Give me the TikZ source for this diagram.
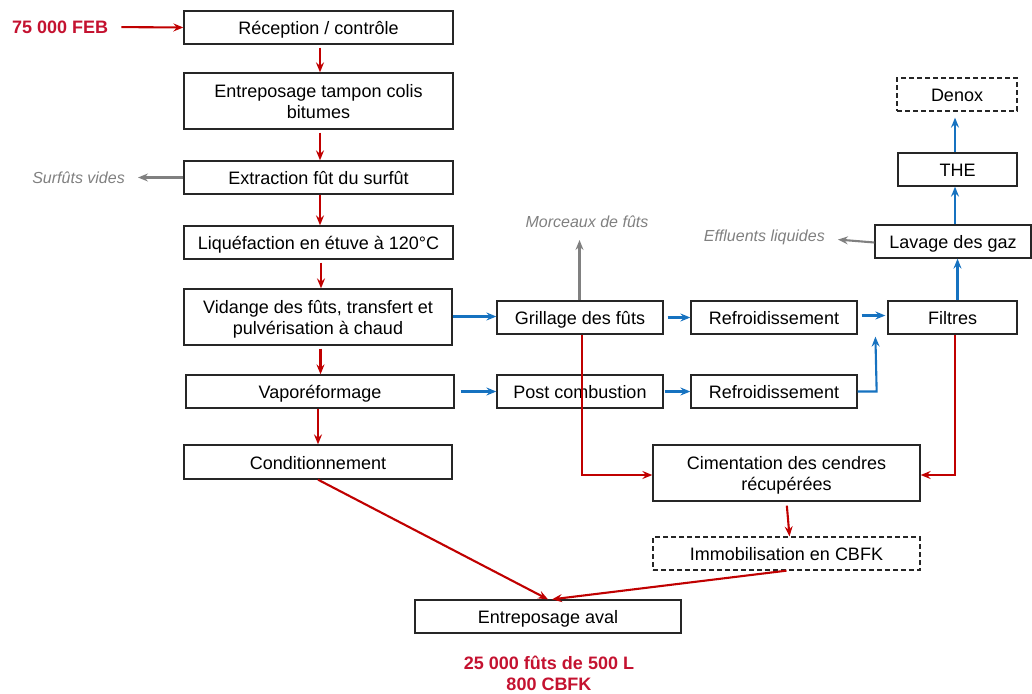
\documentclass[tikz,border=0pt]{standalone}
\usepackage{fontspec}
\setmainfont{Liberation Sans}
\usetikzlibrary{arrows.meta}

\definecolor{flowred}{RGB}{192,0,0}
\definecolor{labelred}{RGB}{196,18,48}
\definecolor{flowblue}{RGB}{22,114,192}
\definecolor{flowgray}{RGB}{128,128,128}

\tikzset{
  box/.style={draw=black!85, line width=1.3pt, fill=white, inner sep=2pt,
    align=center, font=\fontsize{18}{21}\selectfont,
    text height=17pt, text depth=3pt},
  twoline/.style={text height=38pt, text depth=3pt},
  dashbox/.style={box, dash pattern=on 5pt off 3pt},
  flowtip/.style={-{Stealth[length=10pt,width=8pt,inset=3.5pt]}},
  redarr/.style={flowtip, color=flowred, line width=2.1pt},
  bluearr/.style={flowtip, color=flowblue, line width=2.1pt},
  grayarr/.style={flowtip, color=flowgray, line width=2.1pt},
  sidelabel/.style={inner sep=0pt, text=flowgray,
    font=\fontsize{16}{19}\selectfont\itshape},
  qtylabel/.style={inner sep=0pt, text=labelred, align=center,
    font=\fontsize{18}{21}\selectfont\bfseries}
}

\begin{document}
\begin{tikzpicture}[x=1pt, y=-1pt]
\useasboundingbox (0,0) rectangle (1032,693);

% main line (left column)
\node[box, minimum width=269pt, minimum height=33pt] (rec) at (318.5,27.5) {Réception / contrôle};
\node[box, twoline, minimum width=269pt, minimum height=56pt] (ent) at (318.5,101) {Entreposage tampon colis\\bitumes};
\node[box, minimum width=269pt, minimum height=33pt] (ext) at (318.5,177.5) {Extraction fût du surfût};
\node[box, minimum width=269pt, minimum height=33pt] (liq) at (318.5,242.5) {Liquéfaction en étuve à 120°C};
\node[box, twoline, minimum width=268pt, minimum height=56pt] (vid) at (318,317) {Vidange des fûts, transfert et\\pulvérisation à chaud};
\node[box, minimum width=268pt, minimum height=33pt] (vap) at (320,391.5) {Vaporéformage};
\node[box, minimum width=268pt, minimum height=34pt] (con) at (318,462) {Conditionnement};
\node[box, minimum width=266pt, minimum height=33pt] (ava) at (548,616.5) {Entreposage aval};

% gas treatment
\node[box, minimum width=166pt, minimum height=33pt] (gri) at (580,317.5) {Grillage des fûts};
\node[box, minimum width=166pt, minimum height=33pt] (pos) at (580,391.5) {Post combustion};
\node[box, minimum width=166pt, minimum height=33pt] (ref1) at (774,317.5) {Refroidissement};
\node[box, minimum width=166pt, minimum height=33pt] (ref2) at (774,391.5) {Refroidissement};
\node[box, minimum width=129pt, minimum height=33pt] (fil) at (952.5,317.5) {Filtres};
\node[box, minimum width=156pt, minimum height=33pt] (lav) at (953,241.5) {Lavage des gaz};
\node[box, minimum width=119pt, minimum height=33pt] (the) at (957.5,169.5) {THE};
\node[dashbox, minimum width=120pt, minimum height=33pt] (den) at (957,94.5) {Denox};

% ash conditioning
\node[box, twoline, minimum width=267pt, minimum height=56pt] (cim) at (786.5,473) {Cimentation des cendres\\récupérées};
\node[dashbox, minimum width=267pt, minimum height=33pt] (imm) at (786.5,553.5) {Immobilisation en CBFK};

% labels
\node[qtylabel, anchor=west] (feb) at (12,27) {75 000 FEB};
\node[qtylabel] (out) at (549,673.5) {25 000 fûts de 500 L\\800 CBFK};
\node[sidelabel, anchor=east] (surf) at (125,177.5) {Surfûts vides};
\node[sidelabel] (morc) at (587,222) {Morceaux de fûts};
\node[sidelabel, anchor=east] (effl) at (825,237.5) {Effluents liquides};

% red flow
\draw[redarr, shorten <=13pt] (feb.east) -- (rec.west);
\draw[redarr, shorten <=3pt] ([xshift=1.5pt]rec.south) -- ([xshift=1.5pt]ent.north);
\draw[redarr, shorten <=3pt] ([xshift=1.5pt]ent.south) -- ([xshift=1.5pt]ext.north);
\draw[redarr] ([xshift=1.5pt]ext.south) -- ([xshift=1.5pt]liq.north);
\draw[redarr, shorten <=3pt] ([xshift=2.5pt]liq.south) -- ([xshift=3pt]vid.north);
\draw[redarr, shorten <=3pt] ([xshift=2.5pt]vid.south) -- ([xshift=0.5pt]vap.north);
\draw[redarr] ([xshift=-2pt]vap.south) -- (con.north);
\draw[redarr] (con.south) -- (ava.north);
\draw[redarr] (imm.south) -- ([xshift=4pt]ava.north);
\draw[redarr] ([xshift=2pt]gri.south) |- ([yshift=-2pt]cim.west);
\draw[redarr] ([xshift=2.5pt]fil.south) |- ([yshift=-2pt]cim.east);
\draw[redarr, shorten <=4pt] (cim.south) -- ([xshift=3pt]imm.north);

% blue flow
\draw[bluearr] ([yshift=0.5pt]vid.east) -- ([yshift=1pt]gri.west);
\draw[bluearr, shorten <=6pt] (vap.east) -- (pos.west);
\draw[bluearr, shorten <=4pt] (gri.east) -- (ref1.west);
\draw[bluearr, shorten <=1pt] (pos.east) -- (ref2.west);
\draw[bluearr, shorten <=4pt, shorten >=2pt] ([yshift=2pt]ref1.east) -- ([yshift=2pt]fil.west);
\draw[bluearr, shorten >=2pt] (ref2.east) -- ++(19,0) -- ([xshift=-12pt]fil.south west);
\draw[bluearr] ([xshift=5pt]fil.north) -- ([xshift=4.5pt]lav.south);
\draw[bluearr] ([xshift=2pt]lav.north) -- ([xshift=-2.5pt]the.south);
\draw[bluearr, shorten >=6pt] ([xshift=-2.5pt]the.north) -- ([xshift=-2pt]den.south);

% side outputs
\draw[grayarr, shorten >=13pt] (ext.west) -- (surf.east);
\draw[grayarr, shorten >=18pt] ([xshift=-0.5pt]gri.north) -- ([xshift=-7.5pt]morc.center);
\draw[grayarr, shorten >=13pt] ([yshift=-1pt]lav.west) -- ([yshift=-1pt]effl.east);
\end{tikzpicture}
\end{document}
